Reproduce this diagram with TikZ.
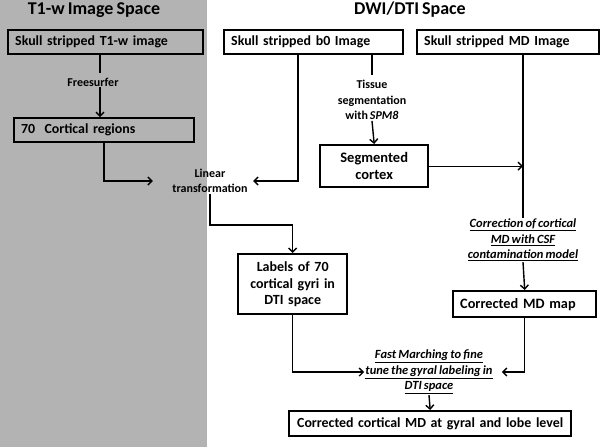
\documentclass[tikz,border=0pt]{standalone}
\usepackage{fontspec}
\setmainfont{Carlito}[WordSpace=0.75]
\usetikzlibrary{arrows.meta,calc}
\definecolor{panelgray}{RGB}{179,179,179}
\tikzset{
	imgbox/.style={draw, line width=2.4pt, inner xsep=7pt, inner ysep=0pt, anchor=north west, font=\bfseries\fontsize{13.9}{16.5}\selectfont},
	stepnote/.style={inner sep=1pt, align=center, font=\bfseries\fontsize{12}{15.5}\selectfont},
	ulnote/.style={stepnote, font=\bfseries\itshape\fontsize{12.5}{15.5}\selectfont},
	spacetitle/.style={font=\bfseries\fontsize{18}{20}\selectfont},
	flow/.style={line width=1.4pt, -{Straight Barb[length=4pt,width=8pt]}},
	plain/.style={line width=1.4pt}
}

\begin{document}
\begin{tikzpicture}[x=1pt,y=-1pt]
				%%%%% START %%%%%
				\def\xfs{100}
				\def\xctx{104}
				\def\xbl{298}
				\def\xts{372}
				\def\xmd{523}
				\def\ylt{225}

				\fill[panelgray] (0,0) rectangle (207,447);
				\useasboundingbox (0,0) rectangle (600,447);

				\node[spacetitle] (t1title) at (94,10) {T1-w Image Space};
				\node[spacetitle] (dwititle) at (410,10) {DWI/DTI Space};

				% boxes
				\node[imgbox, text width=181pt, align=left, minimum height=24pt] (t1img) at (7,29) {Skull stripped T1-w image};
				\node[imgbox, text width=166pt, align=left, minimum height=24pt] (ctx70) at (13,117) {70\ \ Cortical regions};
				\node[imgbox, text width=165pt, align=left, minimum height=24pt] (b0img) at (223,29) {Skull stripped b0 Image};
				\node[imgbox, text width=168pt, align=left, minimum height=24pt] (mdimg) at (416,29) {Skull stripped MD Image};
				\node[imgbox, text width=94pt, align=center, minimum height=42pt, font=\bfseries\fontsize{14.5}{16.5}\selectfont] (segctx) at (319,144) {Segmented\\cortex};
				\node[imgbox, text width=95pt, align=center, minimum height=60pt, font=\bfseries\fontsize{14}{16.5}\selectfont] (gyrlab) at (237,253) {Labels of 70\\cortical gyri in\\DTI space};
				\node[imgbox, text width=129pt, align=left, minimum height=26pt, font=\bfseries\fontsize{14.3}{16.5}\selectfont] (mdmap) at (452,290) {Corrected MD map};
				\node[imgbox, text width=268pt, align=center, minimum height=25pt] (finalmd) at (288,410) {Corrected cortical MD at gyral and lobe level};

				% step labels
				\node[stepnote] (freesurf) at (93,82) {Freesurfer};
				\node[stepnote] (lintr) at (210,181) {Linear\\transformation};
				\node[stepnote] (tisseg) at (372,100) {Tissue\\segmentation\\with \textit{SPM8}};
				\node[ulnote] (csfcorr) at (523,240) {\underline{Correction of cortical}\\\underline{MD with CSF}\\\underline{contamination model}};
				\node[ulnote] (fastm) at (429,372) {\underline{Fast Marching to fine}\\\underline{tune the gyral labeling in}\\\underline{DTI space}};

				% T1-w side
				\draw[plain, shorten >=4pt] (t1img.south -| \xfs,0) -- (freesurf.north -| \xfs,0);
				\draw[flow] (freesurf.south -| \xfs,0) -- (ctx70.north -| \xfs,0);
				\draw[flow, shorten >=18.5pt] (ctx70.south -| \xctx,0) |- (lintr.west);

				% DWI side
				\draw[flow, shorten >=4.5pt] (b0img.south -| \xbl,0) |- (lintr.east);
				\draw[flow] (lintr.south) -- (lintr.south |- 0,\ylt) -| (gyrlab.north);
				\draw[plain, shorten >=4pt] (b0img.south -| \xts,0) -- (tisseg.north);
				\draw[flow] (tisseg.south) -- (segctx.north);
				\draw[flow] (segctx.east) -- (segctx.east -| \xmd,0);
				\draw[plain] (mdimg.south -| \xmd,0) -- (csfcorr.north);
				\draw[flow] (csfcorr.south) -- (mdmap.north);
				\draw[flow, shorten >=8pt] (mdmap.south) |- (fastm.east);
				\draw[flow] (gyrlab.south) |- (fastm.west);
				\draw[flow] (fastm.south) -- (finalmd.north);
				%%%%% START %%%%%
\end{tikzpicture}
\end{document}
